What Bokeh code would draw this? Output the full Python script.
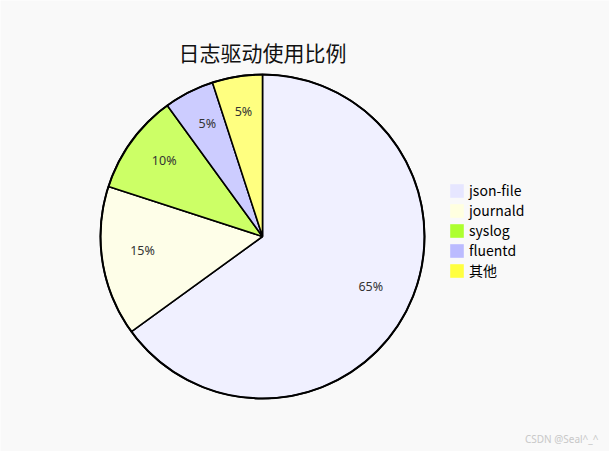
import numpy as np
from bokeh.plotting import figure
from bokeh.models import ColumnDataSource, Legend, LegendItem, Range1d
from bokeh.core.properties import value
from bokeh.embed import file_html
from bokeh.resources import INLINE

title_text = "日志驱动使用比例"
categories = ["json-file", "journald", "syslog", "fluentd", "其他"]
shares = [65, 15, 10, 5, 5]
slice_colors = ["#f0f0ff", "#fefee8", "#ccff66", "#ccccff", "#ffff80"]
legend_colors = ["#e6e6ff", "#ffffe0", "#adff2f", "#bbbbff", "#ffff40"]
watermark = "CSDN @Seal^_^"

W, H = 609, 451
cx, cy, R = 262, 215, 162

vals = np.array(shares, dtype=float)
frac = vals / vals.sum()
cum = np.concatenate([[0], np.cumsum(frac)])
start = np.pi / 2 - 2 * np.pi * cum[:-1]
end = np.pi / 2 - 2 * np.pi * cum[1:]
mid = (start + end) / 2
lr = 0.75 * R

src = ColumnDataSource(dict(
    x=[cx] * len(categories), y=[cy] * len(categories),
    start=start, end=end, color=slice_colors, cat=categories,
    lx=cx + lr * np.cos(mid), ly=cy + lr * np.sin(mid),
    lab=[f"{v:g}%" for v in shares],
))

p = figure(width=W, height=H, output_backend="svg", toolbar_location=None,
           x_range=Range1d(0, W), y_range=Range1d(0, H), min_border=0)
p.axis.visible = False
p.grid.visible = False
p.outline_line_color = None
p.background_fill_color = "#f9f9f9"
p.border_fill_color = "#f9f9f9"

p.wedge(x="x", y="y", radius=R, start_angle="start", end_angle="end",
        direction="clock", fill_color="color", line_color="black",
        line_width=1.6, source=src)
p.circle(x=[cx], y=[cy], radius=R, fill_color=None, line_color="black", line_width=2)

p.text(x="lx", y="ly", text="lab", source=src, text_align="center",
       text_baseline="middle", y_offset=-5, text_font=value("Noto Sans"),
       text_font_size="12.5px", text_color="#333333")

p.text(x=[cx], y=[398], text=[title_text], text_align="center",
       text_baseline="middle", y_offset=-2, text_font=value("Noto Sans CJK SC"),
       text_font_size="21px", text_color="#111111")

p.text(x=[598], y=[13], text=[watermark], text_align="right",
       text_baseline="middle", text_font=value("Noto Sans"),
       text_font_size="10px", text_color="#c8c8c8")

items = []
for cat, col in zip(categories, legend_colors):
    r = p.quad(left=[np.nan], right=[np.nan], top=[np.nan], bottom=[np.nan],
               fill_color=col, line_color=None)
    items.append(LegendItem(label=cat, renderers=[r]))

legend = Legend(items=items, location=(448, 171), orientation="vertical",
                glyph_width=17, glyph_height=17, label_height=17, spacing=0,
                padding=0, margin=0, label_standoff=4,
                label_text_font="Noto Sans CJK SC", label_text_font_size="14px",
                label_text_line_height=0.9,
                label_text_color="#000000",
                border_line_color=None, background_fill_alpha=0)
p.add_layout(legend, "center")

open("out.html", "w").write(file_html(p, INLINE))
